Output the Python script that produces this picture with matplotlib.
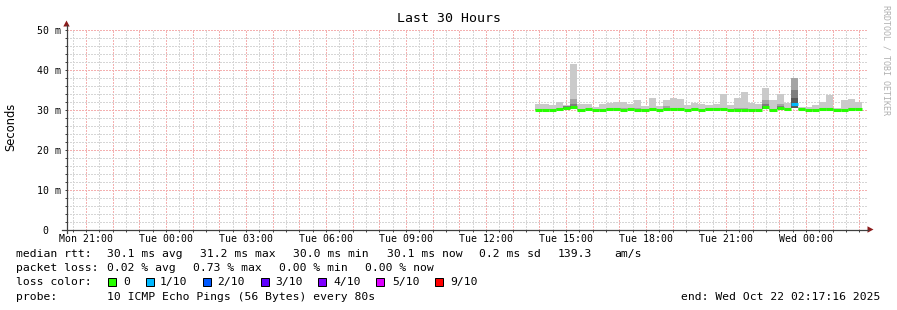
import numpy as np
import matplotlib.pyplot as plt
from matplotlib.lines import Line2D
from matplotlib.patches import Polygon, Rectangle

W, H, DPI = 897, 310, 100
MONO = 'DejaVu Sans Mono'

# ---------------- data ----------------
# time axis in hours after the graph start (Mon 20:17:16), 30 h window
first_hour = 0.7122          # Mon 21:00
time_labels = ['Mon 21:00', 'Tue 00:00', 'Tue 03:00', 'Tue 06:00', 'Tue 09:00',
               'Tue 12:00', 'Tue 15:00', 'Tue 18:00', 'Tue 21:00', 'Wed 00:00']
bin_start = 17.54            # first bin with data
bin_step = 16 / 60.0         # consolidation step (16 min)

# median rtt per bin (ms)
median_ms = [29.95, 29.95, 29.95, 30.2, 30.3, 30.6, 29.95, 30.2, 29.95, 29.95,
             30.2, 30.2, 29.95, 30.2, 29.95, 29.95, 30.2, 29.95, 30.2, 30.2,
             30.2, 29.95, 30.2, 29.95, 30.2, 30.2, 30.2, 29.95, 29.95, 29.95,
             29.95, 29.95, 30.6, 29.95, 30.45, 30.2, 31.3, 30.2, 29.95, 29.95,
             30.2, 30.2, 29.95, 29.95, 30.2, 30.2]
# smoke: highest ping, 9th, 8th, 7th of 10, and the low edge (ms)
rtt_max = [31.4, 31.4, 31.1, 32.0, 31.1, 41.4, 31.4, 31.4, 30.7, 31.3,
           31.6, 32.0, 32.0, 31.4, 32.4, 31.0, 32.9, 31.0, 32.3, 33.0,
           32.6, 31.1, 31.6, 31.4, 31.1, 31.4, 34.0, 31.1, 33.0, 34.5,
           31.6, 31.4, 35.4, 32.4, 33.9, 31.7, 37.9, 30.7, 30.7, 31.1,
           31.9, 33.6, 30.4, 32.4, 32.6, 32.0]
rtt_p9 = [30.2, 30.2, 30.2, 30.4, 31.0, 32.6, 30.2, 30.2, 30.1, 30.2,
          30.3, 30.4, 30.3, 30.2, 30.4, 30.1, 30.4, 30.1, 31.0, 30.4,
          30.4, 30.1, 30.3, 30.1, 30.3, 30.3, 30.4, 30.1, 30.3, 30.4,
          30.2, 30.1, 32.4, 30.1, 31.5, 30.3, 37.8, 30.2, 30.1, 30.1,
          30.3, 30.4, 30.1, 30.2, 30.4, 30.3]
rtt_p8 = [30.0, 30.0, 30.0, 30.0, 30.9, 31.4, 30.0, 30.0, 30.0, 30.0,
          30.0, 30.0, 30.0, 30.0, 30.0, 30.0, 30.0, 30.0, 30.0, 30.0,
          30.0, 30.0, 30.0, 30.0, 30.0, 30.0, 30.0, 30.0, 30.0, 30.0,
          30.0, 30.0, 31.3, 30.0, 30.9, 30.0, 34.9, 30.0, 30.0, 30.0,
          30.0, 30.0, 30.0, 30.0, 30.0, 30.0]
rtt_p7 = [30.0, 30.0, 30.0, 30.0, 30.5, 30.9, 30.0, 30.0, 30.0, 30.0,
          30.0, 30.0, 30.0, 30.0, 30.0, 30.0, 30.0, 30.0, 30.0, 30.0,
          30.0, 30.0, 30.0, 30.0, 30.0, 30.0, 30.0, 30.0, 30.0, 30.0,
          30.0, 30.0, 30.9, 30.0, 30.5, 30.0, 32.8, 30.0, 30.0, 30.0,
          30.0, 30.0, 30.0, 30.0, 30.0, 30.0]
rtt_low = [29.9, 29.9, 29.9, 29.9, 30.2, 30.2, 29.9, 29.9, 29.9, 29.9,
           29.9, 29.9, 29.9, 29.9, 29.9, 29.9, 29.9, 29.9, 29.9, 29.9,
           29.9, 29.9, 29.9, 29.9, 29.9, 29.9, 29.9, 29.9, 29.9, 29.9,
           29.9, 29.9, 30.2, 29.9, 30.1, 29.9, 30.3, 29.9, 29.9, 29.9,
           29.9, 29.9, 29.9, 29.9, 29.9, 29.9]
loss_count = [0] * 36 + [1] + [0] * 9     # lost pings out of 10

loss_labels = ['0', '1/10', '2/10', '3/10', '4/10', '5/10', '9/10']
loss_thresh = [0, 1, 2, 3, 4, 5, 9]
loss_colors = ['#26ff00', '#00b8ff', '#0059ff', '#5e00ff', '#7e00ff', '#dd00ff', '#ff0000']

rtt_stats = ['30.1 ms avg', '31.2 ms max', '30.0 ms min', '30.1 ms now',
             '0.2 ms sd', '139.3', 'am/s']
loss_stats = ['0.02 % avg', '0.73 % max', '0.00 % min', '0.00 % now']
probe_text = '10 ICMP Echo Pings (56 Bytes) every 80s'
end_text = 'end: Wed Oct 22 02:17:16 2025'

# ---------------- layout (pixels from top-left) ----------------
rtt_x = [107, 200, 293, 387, 479, 558, 614]
loss_x = [107, 193, 279, 365]
box_x = [108, 146, 203, 261, 318, 376, 435]
box_txt_x = [123, 160, 217, 275, 333, 392, 450]
row_y = [254, 268, 282, 296.5]

def fx(px):
    return px / W

def fy(py):
    return 1 - py / H

fig = plt.figure(figsize=(W / DPI, H / DPI), dpi=DPI, facecolor='white')
ax = fig.add_axes([fx(67), fy(229.5), 800 / W, 200 / H])
ax.set_facecolor('white')
ax.set_xlim(0, 30)
ax.set_ylim(0, 50)

# grid
major_hours = first_hour + np.arange(0, 30)
minor_hours = first_hour - 0.5 + np.arange(0, 31)
ax.set_xticks(major_hours)
ax.set_xticks(minor_hours[(minor_hours > 0) & (minor_hours < 30)], minor=True)
ax.set_xticklabels([time_labels[i // 3] if i % 3 == 0 else '' for i in range(30)])
ax.set_yticks(np.arange(0, 51, 10))
ax.set_yticks(np.arange(0, 51, 2), minor=True)
ax.set_yticklabels(['0  '] + ['%d m' % v for v in range(10, 51, 10)])
ax.grid(which='major', color='#f4b0b0', linestyle=(0, (1, 1)), linewidth=1.0,
        antialiased=False)
ax.grid(which='minor', color='#d6d6d6', linestyle=(0, (1, 1)), linewidth=1.0,
        antialiased=False)
ax.set_axisbelow(True)
ax.tick_params(which='both', direction='out', length=1.6, width=0.72, color='#404040')
ax.tick_params(axis='y', which='major', labelsize=7.1, pad=3)
ax.tick_params(axis='x', which='major', labelsize=7.1, pad=1.8)
for lab in ax.get_xticklabels() + ax.get_yticklabels():
    lab.set_family(MONO)
for s in ax.spines.values():
    s.set_visible(False)

# smoke
t = bin_start + np.arange(len(median_ms)) * bin_step
low = np.array(rtt_low)
shades = ['#cacaca', '#a4a4a4', '#7e7e7e', '#585858']
for top, shade in zip([rtt_max, rtt_p9, rtt_p8, rtt_p7], shades):
    top = np.array(top)
    ax.bar(t, top - low, bottom=low, width=bin_step, align='edge',
           color=shade, linewidth=0)

# median, coloured by loss
colors = []
for lc in loss_count:
    idx = max(i for i, th in enumerate(loss_thresh) if lc >= th)
    colors.append(loss_colors[idx])
ax.hlines(median_ms, t, t + bin_step, colors=colors, linewidth=2.2)

# axes lines with arrows
axc = '#404040'
arc = '#8c1c1c'
fig.add_artist(Line2D([fx(66.5), fx(66.5)], [fy(233), fy(25)], color=axc, lw=0.9))
fig.add_artist(Line2D([fx(62), fx(868)], [fy(229.5), fy(229.5)], color=axc, lw=0.9))
fig.add_artist(Polygon([[fx(66.5), fy(20.5)], [fx(63.3), fy(26.5)], [fx(69.7), fy(26.5)]],
                       closed=True, color=arc, lw=0))
fig.add_artist(Polygon([[fx(873.5), fy(229.5)], [fx(867.5), fy(226.3)], [fx(867.5), fy(232.7)]],
                       closed=True, color=arc, lw=0))

# titles
fig.text(0.5, fy(19), 'Last 30 Hours', family=MONO, fontsize=9.5,
         ha='center', va='center')
fig.text(fx(11), fy(127), 'Seconds', family='DejaVu Sans', fontsize=8.3,
         rotation=90, ha='center', va='center')
fig.text(fx(886), fy(60), 'RRDTOOL / TOBI OETIKER', family=MONO, fontsize=6,
         rotation=270, ha='center', va='center', color='#b0b0b0')

# legend block
fs = 8.2
fig.text(fx(16), fy(row_y[0]), 'median rtt:', family=MONO, fontsize=fs, va='center')
for x, s in zip(rtt_x, rtt_stats):
    fig.text(fx(x), fy(row_y[0]), s, family=MONO, fontsize=fs, va='center')
fig.text(fx(16), fy(row_y[1]), 'packet loss:', family=MONO, fontsize=fs, va='center')
for x, s in zip(loss_x, loss_stats):
    fig.text(fx(x), fy(row_y[1]), s, family=MONO, fontsize=fs, va='center')
fig.text(fx(16), fy(row_y[2]), 'loss color:', family=MONO, fontsize=fs, va='center')
for bx, tx, lab, c in zip(box_x, box_txt_x, loss_labels, loss_colors):
    fig.add_artist(Rectangle((fx(bx), fy(row_y[2] + 4)), 8 / W, 8 / H,
                             facecolor=c, edgecolor='black', lw=0.72))
    fig.text(fx(tx), fy(row_y[2]), lab, family=MONO, fontsize=fs, va='center')
fig.text(fx(16), fy(row_y[3]), 'probe:', family=MONO, fontsize=fs, va='center')
fig.text(fx(107), fy(row_y[3]), probe_text, family=MONO, fontsize=fs, va='center')
fig.text(fx(880), fy(row_y[3]), end_text, family=MONO, fontsize=fs,
         va='center', ha='right')

fig.savefig('out.png', dpi=DPI, facecolor='white')
